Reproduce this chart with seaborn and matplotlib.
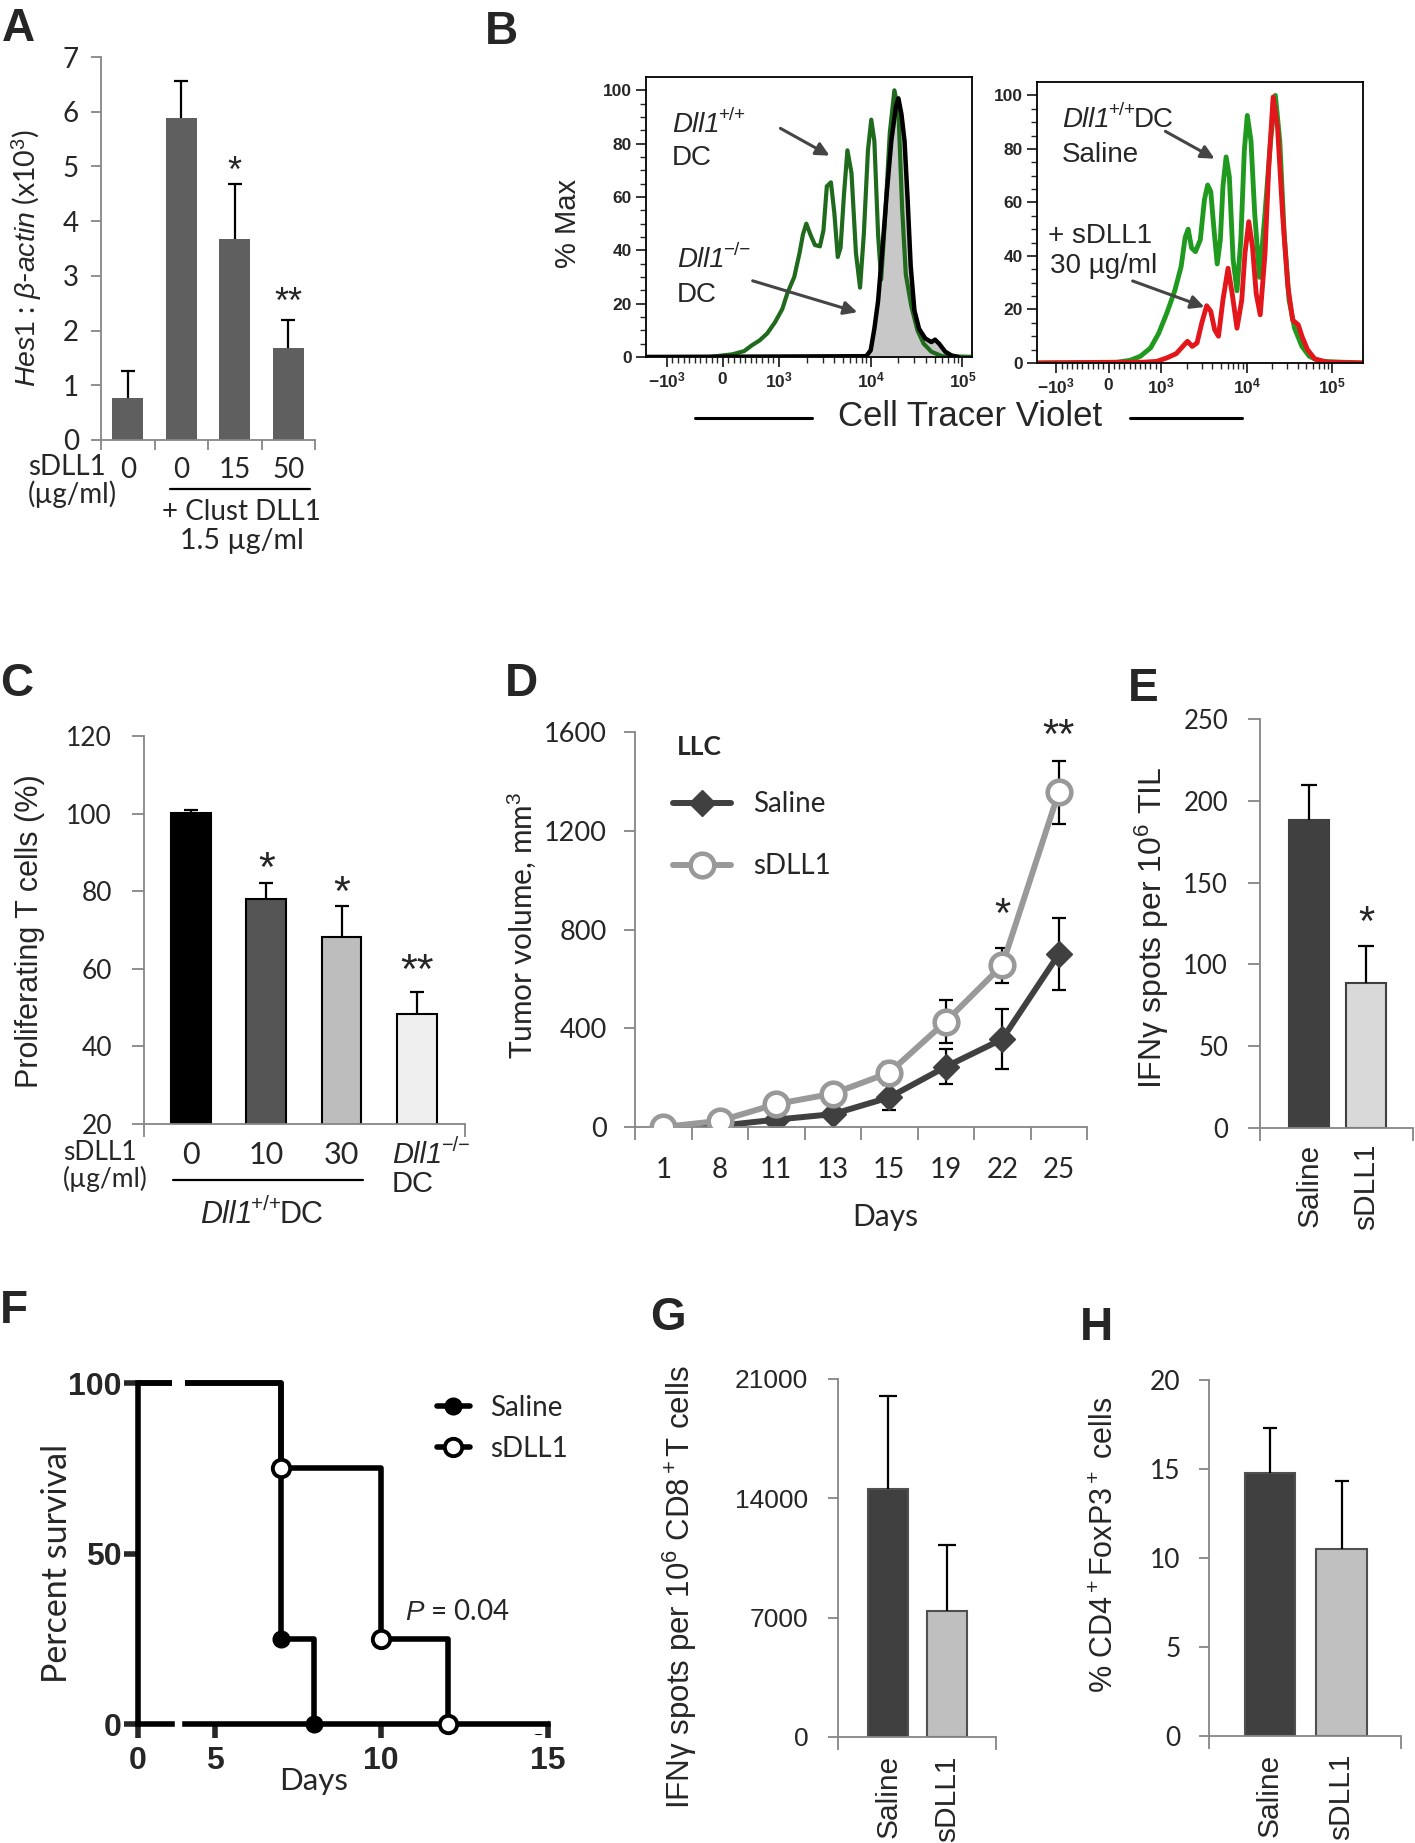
import numpy as np
import matplotlib
matplotlib.use("Agg")
import matplotlib.pyplot as plt
from matplotlib.patches import FancyArrowPatch
from matplotlib.lines import Line2D
import seaborn as sns

# ---------------------------------------------------------------------------
# Data
# ---------------------------------------------------------------------------
# A: Hes1 : beta-actin (x10^3)
a_labels = ["0", "0", "15", "50"]
a_vals = [0.76, 5.88, 3.68, 1.69]
a_err = [0.51, 0.69, 1.00, 0.51]
a_stars = ["", "", "*", "**"]
a_star_y = [0, 0, 5.1, 2.7]

# B: Cell Tracer Violet histograms (% Max), left panel
b_wt_x = [-1700, -240, 170, 380, 520, 655, 790, 930, 1090, 1240, 1470, 1680, 1830, 1990,
          2200, 2470, 2800, 3060, 3330, 3690, 4020, 4380, 4700, 5120, 5580, 6180, 6910,
          7660, 8420, 9340, 10150, 10970, 12040, 13000, 14380, 16150, 18130, 20050,
          21990, 24130, 27730, 32350, 37760, 45800, 60000, 150000]
b_wt_y = [0, 0, 1, 2.2, 4.4, 6.2, 8.8, 13, 18, 24, 30, 39, 46, 50, 46, 42, 41.5, 47.5, 64,
          65.5, 54, 37.5, 41, 61, 77.5, 69, 39, 26, 46, 77.5, 89, 81, 46, 29, 52.5, 84, 100,
          92.5, 56, 31, 19, 10, 5, 2, 0.3, 0]
b_ko_x = [-1700, 8940, 10000, 10970, 12040, 13310, 14940, 16780, 18850, 20050, 21650, 23390,
          25270, 27310, 29960, 33640, 39260, 45800, 50270, 55600, 64860, 75700, 90000]
b_ko_y = [0, 0.3, 2.5, 10.6, 21, 39, 61, 81, 94, 97, 91, 81, 59, 34, 17.5, 10.6, 7, 5.6,
          6.5, 5, 2, 0.6, 0]
# B: right panel
b_sal_x = [-1700, 160, 410, 605, 800, 955, 1170, 1450, 1720, 1920, 2080, 2280, 2530, 2880,
           3220, 3510, 3820, 4160, 4540, 4940, 5300, 5770, 6290, 6970, 7730, 8570, 9420,
           10200, 11260, 12440, 14150, 16430, 19070, 21690, 24430, 27530, 31310, 36340,
           44330, 54060, 72780, 230000]
b_sal_y = [0, 0.3, 1, 2.5, 5.6, 11, 18.6, 27, 36, 47, 50, 43, 41.6, 46, 61, 66.5, 64, 50,
           37, 46, 66, 77, 69.6, 38.5, 27, 46, 79.5, 92.5, 83, 56, 32, 56, 83, 100, 83, 48,
           23.6, 13, 6.2, 2.5, 0.6, 0]
b_sd_x = [-1700, 670, 920, 1170, 1510, 1870, 2040, 2320, 2640, 3000, 3420, 3820, 4240, 4700,
          5300, 6080, 6790, 7730, 8790, 9580, 10610, 11720, 12950, 14440, 16430, 18140,
          20430, 23020, 26450, 30390, 34580, 40120, 44330, 51430, 62720, 88800, 230000]
b_sd_y = [0, 0.3, 0.6, 1.9, 3.5, 6.8, 8.1, 6.2, 7.5, 15, 21.4, 19.3, 12.4, 10, 23.6, 35.4,
          26, 13, 23.6, 41, 52.8, 43.5, 26, 18, 41, 73, 99.4, 88, 54.7, 28.6, 16, 14.3, 10,
          5, 1.5, 0.3, 0]
b_xticks = [-1000, 0, 1000, 10000, 100000]
b_xticklabels = [r"$\mathbf{-10^3}$", r"$\mathbf{0}$", r"$\mathbf{10^3}$",
                 r"$\mathbf{10^4}$", r"$\mathbf{10^5}$"]

# C: proliferating T cells (%)
c_labels = ["0", "10", "30", ""]
c_vals = [100.1, 78.1, 68.2, 48.4]
c_err = [0.9, 4.1, 8.1, 5.7]
c_stars = ["", "*", "*", "**"]
c_star_y = [0, 89, 83, 62.7]

# D: tumour volume (mm3)
d_days = ["1", "8", "11", "13", "15", "19", "22", "25"]
d_saline = [0, 5, 30, 52, 120, 244, 356, 700]
d_saline_err = [0, 5, 10, 15, 52, 71, 123, 145]
d_sdll1 = [0, 25, 93, 135, 220, 427, 655, 1356]
d_sdll1_err = [0, 5, 8, 10, 45, 88, 70, 127]
d_stars = ["", "", "", "", "", "", "*", "**"]
d_star_y = [0, 0, 0, 0, 0, 0, 907, 1635]

# E: IFNg spots per 10^6 TIL
groups = ["Saline", "sDLL1"]
e_vals = [188, 88.6]
e_err = [21.5, 22.4]
e_stars = ["", "*"]
e_star_y = [0, 133]

# F: survival
f_saline_days = [0, 7, 8]
f_saline_surv = [100, 25, 0]
f_sdll1_days = [0, 7, 10, 12]
f_sdll1_surv = [100, 75, 25, 0]

# G: IFNg spots per 10^6 CD8+ T cells
g_vals = [14530, 7390]
g_err = [5460, 3890]

# H: % CD4+FoxP3+ cells
h_vals = [14.8, 10.5]
h_err = [2.5, 3.8]

# ---------------------------------------------------------------------------
# Style
# ---------------------------------------------------------------------------
W, H = 1415, 1843
sns.set_style("white")
CAL = ["Lato", "DejaVu Sans"]
ARI = ["Liberation Sans", "DejaVu Sans"]
plt.rcParams["font.family"] = ARI
plt.rcParams["mathtext.fontset"] = "custom"
plt.rcParams["mathtext.rm"] = "Liberation Sans"
plt.rcParams["mathtext.it"] = "Liberation Sans:italic"
plt.rcParams["mathtext.bf"] = "Liberation Sans:bold"
GRAY = "#868686"

fig = plt.figure(figsize=(W / 100, H / 100), dpi=100)
renderer = fig.canvas.get_renderer()


def box(x0, y0, x1, y1):
    return [x0 / W, 1 - y1 / H, (x1 - x0) / W, (y1 - y0) / H]


def ftext(x, y, s, **kw):
    return fig.text(x / W, 1 - y / H, s, **kw)


def gene_label(x, y, sup, tail="", size=20, family=ARI):
    # italic "Dll1" with a genotype superscript, baseline at pixel row y
    t = ftext(x, y, "Dll1", style="italic", ha="left", va="baseline", fontsize=size,
              family=family)
    x1 = t.get_window_extent(renderer).x1
    s = ftext(x1 - 1.5, y - 0.42 * size * 1.389, sup, ha="left", va="baseline",
              fontsize=0.68 * size, family=family)
    if tail:
        x2 = s.get_window_extent(renderer).x1
        ftext(x2 - 1, y, tail, ha="left", va="baseline", fontsize=size, family=family)


def fline(x0, x1, y, lw=1.6):
    fig.add_artist(Line2D([x0 / W, x1 / W], [1 - y / H, 1 - y / H], color="black", lw=lw))


def farrow(x0, y0, x1, y1):
    fig.add_artist(FancyArrowPatch((x0 / W, 1 - y0 / H), (x1 / W, 1 - y1 / H),
                                   transform=fig.transFigure, arrowstyle="-|>",
                                   mutation_scale=20, color="#454545", lw=2.2))


def excel_axes(ax, ylim, yticks, font, size, pad, ticklen):
    sns.despine(ax=ax)
    for s in ("left", "bottom"):
        ax.spines[s].set_color(GRAY)
        ax.spines[s].set_linewidth(1.3)
    ax.set_ylim(*ylim)
    ax.set_yticks(list(yticks))
    ax.tick_params(axis="y", direction="out", length=ticklen, width=1.3, color=GRAY,
                   pad=pad, labelsize=size, left=True)
    for t in ax.get_yticklabels():
        t.set_family(font)
    ax.set_xlabel("")
    ax.set_ylabel("")


def excel_bars(ax, vals, err, colors, width, edge="none", lw=0, capsize=5):
    keys = [str(i) for i in range(len(vals))]
    sns.barplot(x=keys, y=vals, hue=keys, palette=dict(zip(keys, colors)), legend=False,
                saturation=1, width=width, edgecolor=edge, linewidth=lw, errorbar=None, ax=ax)
    eb = ax.errorbar(range(len(vals)), vals, yerr=[np.zeros(len(vals)), err], fmt="none",
                     ecolor="black", elinewidth=1.6, capsize=capsize, capthick=1.6, zorder=3)
    for cl in eb[1]:
        if np.allclose(cl.get_ydata(), vals):
            cl.set_visible(False)


def cat_xaxis(ax, xlim, labels, font, size, pad, rotation=0, bounds=None, ticklen=7):
    ax.set_xlim(*xlim)
    ax.set_xticks(range(len(labels)))
    ax.set_xticklabels(labels, fontsize=size, rotation=rotation)
    for t in ax.get_xticklabels():
        t.set_family(font)
    ax.set_xticks(bounds if bounds is not None else list(xlim), minor=True)
    ax.tick_params(axis="x", which="major", length=0, pad=pad)
    ax.tick_params(axis="x", which="minor", direction="out", length=ticklen, width=1.3,
                   color=GRAY, bottom=True)


def stars(ax, ys, marks, size):
    for i, (y, m) in enumerate(zip(ys, marks)):
        if m:
            ax.annotate(m, (i, y), xytext=(0, -0.58 * size), textcoords="offset points",
                        ha="center", va="baseline", fontsize=size, family=ARI,
                        annotation_clip=False)


# ---------------------------------------------------------------------------
# A
# ---------------------------------------------------------------------------
axA = fig.add_axes(box(101, 57, 315, 440))
excel_bars(axA, a_vals, a_err, ["#5f5f5f"] * 4, 0.58, capsize=5)
excel_axes(axA, (0, 7), range(8), CAL, 20, 9, 7)
cat_xaxis(axA, (-0.5, 3.5), a_labels, CAL, 20, 12, bounds=np.arange(-0.5, 4, 1))
stars(axA, a_star_y, a_stars, 26)
ftext(27, 258, r"$\mathit{Hes1}$ : $\mathit{\beta}$-$\mathit{actin}$ (x10$^3$)",
      rotation=90, ha="center", va="center", fontsize=20.5, family=CAL)
ftext(28, 467, "sDLL1", ha="left", va="center", fontsize=20, family=CAL)
ftext(28, 494, "(µg/ml)", ha="left", va="center", fontsize=20, family=CAL)
fline(170, 310, 489)
ftext(241, 512, "+ Clust DLL1", ha="center", va="center", fontsize=20, family=CAL)
ftext(242, 541, "1.5 µg/ml", ha="center", va="center", fontsize=20.5, family=CAL)

# ---------------------------------------------------------------------------
# B
# ---------------------------------------------------------------------------
b_minor = ([-v for v in range(100, 1000, 100)] + list(range(100, 1000, 100))
           + [m * 10 ** k for k in (3, 4) for m in range(2, 10)])


def flow_axes(ax, xlim):
    ax.set_xscale("symlog", linthresh=1000, linscale=0.55)
    ax.set_xlim(*xlim)
    ax.set_ylim(0, 105)
    for s in ax.spines.values():
        s.set_linewidth(1.3)
        s.set_color("black")
    ax.set_xticks(b_xticks)
    ax.set_xticklabels(b_xticklabels)
    ax.set_xticks(b_minor, minor=True)
    ax.set_yticks(range(0, 101, 20))
    ax.set_yticks(range(0, 101, 5), minor=True)
    ax.tick_params(which="major", direction="out", length=7, width=1.3, pad=3,
                   left=True, bottom=True)
    ax.tick_params(axis="x", which="major", labelsize=12.5)
    ax.tick_params(axis="y", which="major", labelsize=12.5)
    ax.tick_params(which="minor", direction="out", length=4, width=1, left=True, bottom=True)
    for t in ax.get_yticklabels():
        t.set_fontweight("bold")


axB1 = fig.add_axes(box(646, 77, 972, 357))
axB1.fill_between(b_ko_x, b_ko_y, color="#c8c8c8", lw=0)
axB1.plot(b_wt_x, b_wt_y, color="#1f6a1c", lw=3, solid_joinstyle="round")
axB1.plot(b_ko_x, b_ko_y, color="black", lw=3.2, solid_joinstyle="round")
flow_axes(axB1, (-1680, 127000))

axB2 = fig.add_axes(box(1037, 82, 1363, 363))
axB2.plot(b_sal_x, b_sal_y, color="#1f9a1f", lw=3.5, solid_joinstyle="round")
axB2.plot(b_sd_x, b_sd_y, color="#e3161b", lw=3.5, solid_joinstyle="round")
flow_axes(axB2, (-1680, 229000))

ftext(568, 223, "% Max", rotation=90, ha="center", va="center", fontsize=21, family=ARI)
ftext(970, 417, "Cell Tracer Violet", ha="center", va="center", fontsize=25, family=ARI)
fline(695, 812, 418, lw=2.2)
fline(1130, 1242, 418, lw=2.2)

gene_label(672, 132, "+/+")
gene_label(677, 267, "\u2212/\u2212")
gene_label(1062, 127, "+/+", tail="DC")
for x, y, s in [(672, 165, "DC"), (677, 302, "DC"), (1062, 162, "Saline"),
                (1048, 243, "+ sDLL1"), (1050, 273, "30 µg/ml")]:
    ftext(x, y, s, ha="left", va="baseline", fontsize=20, family=ARI)
farrow(778, 127, 832, 157)
farrow(750, 280, 860, 313)
farrow(1163, 130, 1217, 160)
farrow(1130, 280, 1207, 308)

# ---------------------------------------------------------------------------
# C
# ---------------------------------------------------------------------------
axC = fig.add_axes(box(144, 736, 465, 1124))
excel_bars(axC, c_vals, c_err, ["#000000", "#555555", "#bdbdbd", "#efefef"], 0.53,
           edge="black", lw=1.5, capsize=5)
excel_axes(axC, (20, 120), range(20, 121, 20), CAL, 19, 14, 9)
cat_xaxis(axC, (-0.624, 3.64), c_labels, CAL, 22, 12.5, ticklen=9)
stars(axC, c_star_y, c_stars, 31)
ftext(30, 931, "Proliferating T cells (%)", rotation=90, ha="center", va="center",
      fontsize=22, family=ARI)
ftext(63, 1153, "sDLL1", ha="left", va="center", fontsize=19, family=CAL)
ftext(63, 1179, "(µg/ml)", ha="left", va="center", fontsize=19, family=CAL)
fline(173, 363, 1180)
gene_label(392, 1163, "\u2212/\u2212", size=21)
ftext(392, 1184, "DC", ha="left", va="center", fontsize=21, family=ARI)
gene_label(200, 1223, "+/+", tail="DC", size=22)

# ---------------------------------------------------------------------------
# D
# ---------------------------------------------------------------------------
axD = fig.add_axes(box(635, 732, 1087, 1127))
pos = np.arange(len(d_days))
axD.errorbar(pos, d_saline, yerr=d_saline_err, fmt="none", ecolor="black", elinewidth=1.6,
             capsize=5, capthick=1.6, zorder=1)
axD.errorbar(pos, d_sdll1, yerr=d_sdll1_err, fmt="none", ecolor="black", elinewidth=1.6,
             capsize=5, capthick=1.6, zorder=1)
sns.lineplot(x=pos, y=d_saline, ax=axD, color="#404040", lw=4.3, marker="D", markersize=13,
             markeredgecolor="#404040", markeredgewidth=1, label="Saline", zorder=2)
sns.lineplot(x=pos, y=d_sdll1, ax=axD, color="#999999", lw=4.3, marker="o", markersize=17,
             markerfacecolor="white", markeredgecolor="#999999", markeredgewidth=3.3,
             label="sDLL1", zorder=3)
excel_axes(axD, (0, 1600), range(0, 1601, 400), CAL, 19.5, 12.5, 8)
cat_xaxis(axD, (-0.5, 7.5), d_days, CAL, 20, 21.5, bounds=np.arange(-0.5, 8, 1), ticklen=9)
stars(axD, d_star_y, d_stars, 30)
axD.legend(loc="upper left", bbox_to_anchor=(0.084, 0.85), frameon=False,
           prop={"family": CAL, "size": 20}, handlelength=2.1, handletextpad=0.78,
           labelspacing=1.3, borderaxespad=0, borderpad=0)
ftext(677, 747, "LLC", ha="left", va="center", fontsize=19, fontweight="bold", family=CAL)
ftext(522, 925, "Tumor volume, mm$^3$", rotation=90, ha="center", va="center",
      fontsize=21.5, family=CAL)
ftext(885, 1217, "Days", ha="center", va="center", fontsize=21.5, family=CAL)

# ---------------------------------------------------------------------------
# E
# ---------------------------------------------------------------------------
axE = fig.add_axes(box(1260, 719, 1413, 1128))
excel_bars(axE, e_vals, e_err, ["#404040", "#d9d9d9"], 0.70, edge="#404040", lw=1.5,
           capsize=6)
excel_axes(axE, (0, 250), range(0, 251, 50), CAL, 18.5, 14, 9)
cat_xaxis(axE, (-0.86, 1.82), groups, ARI, 21.5, 11, rotation=90, ticklen=9)
stars(axE, e_star_y, e_stars, 30)
ftext(1152, 928, "IFNγ spots per 10$^6$ TIL", rotation=90, ha="center", va="center",
      fontsize=23, family=ARI)

# ---------------------------------------------------------------------------
# F (broken x axis)
# ---------------------------------------------------------------------------
axF1 = fig.add_axes(box(137.6, 1372.8, 172, 1734.4))
axF2 = fig.add_axes(box(185, 1372.8, 547.5, 1734.4))
for ax, xlim in ((axF1, (0, 1.03)), (axF2, (4.11, 15))):
    ax.step(f_saline_days, f_saline_surv, where="post", color="black", lw=4)
    ax.step(f_sdll1_days, f_sdll1_surv, where="post", color="black", lw=4)
    ax.plot(f_saline_days[1:], f_saline_surv[1:], "o", color="black", ms=12, clip_on=False,
            zorder=4)
    ax.plot(f_sdll1_days[1:], f_sdll1_surv[1:], "o", mfc="white", mec="black", mew=2.8,
            ms=12.5, clip_on=False, zorder=4)
    ax.set_xlim(*xlim)
    ax.set_ylim(-3, 103)
    sns.despine(ax=ax)
    ax.spines["bottom"].set_position(("data", 0))
    ax.spines["bottom"].set_linewidth(4)
    ax.spines["bottom"].set_color("black")
    ax.tick_params(axis="x", direction="out", length=10, width=4, pad=6, labelsize=23,
                   bottom=True)
axF1.spines["left"].set_bounds(0, 100)
axF1.spines["left"].set_linewidth(4)
axF1.spines["left"].set_color("black")
axF1.set_yticks([0, 50, 100])
axF1.set_xticks([0])
axF1.tick_params(axis="y", direction="out", length=10, width=4, pad=1.5, labelsize=23,
                 left=True)
for t in axF1.get_xticklabels() + axF1.get_yticklabels():
    t.set_fontweight("bold")
axF2.spines["left"].set_visible(False)
axF2.set_yticks([])
axF2.set_xticks([5, 10, 15])
for t in axF2.get_xticklabels():
    t.set_fontweight("bold")
f_handles = [Line2D([], [], color="black", lw=4, marker="o", ms=12),
             Line2D([], [], color="black", lw=4, marker="o", ms=12.5, mfc="white", mew=2.8)]
axF2.legend(f_handles, groups, loc="upper left", bbox_to_anchor=(0.694, 0.939),
            frameon=False, prop={"family": CAL, "size": 20}, handlelength=1.2,
            handletextpad=0.72, labelspacing=0.55, borderaxespad=0, borderpad=0)
axF2.text(10.72, 32.9, r"$\mathit{P}$ = 0.04", ha="left", va="center", fontsize=20,
          family=CAL)
ftext(57, 1563, "Percent survival", rotation=90, ha="center", va="center", fontsize=24.5,
      family=CAL)
ftext(314, 1781, "Days", ha="center", va="center", fontsize=22.5, family=CAL)

# ---------------------------------------------------------------------------
# G
# ---------------------------------------------------------------------------
axG = fig.add_axes(box(838, 1379, 996, 1737))
excel_bars(axG, g_vals, g_err, ["#404040", "#bfbfbf"], 0.69, edge="#505050", lw=1.5,
           capsize=6.5)
excel_axes(axG, (0, 21000), [0, 7000, 14000, 21000], ARI, 19, 14.5, 7)
cat_xaxis(axG, (-0.85, 1.83), groups, ARI, 21.5, 13, rotation=90, ticklen=9)
ftext(680, 1587, "IFNγ spots per 10$^6$ CD8$^+$T cells", rotation=90, ha="center",
      va="center", fontsize=22.5, family=ARI)

# ---------------------------------------------------------------------------
# H
# ---------------------------------------------------------------------------
axH = fig.add_axes(box(1209, 1380, 1401, 1736))
excel_bars(axH, h_vals, h_err, ["#404040", "#c0c0c0"], 0.70, edge="#505050", lw=1.5,
           capsize=5)
excel_axes(axH, (0, 20), range(0, 21, 5), CAL, 19, 13.5, 7)
cat_xaxis(axH, (-0.85, 1.83), groups, ARI, 21.5, 12.5, rotation=90, ticklen=9)
ftext(1105, 1545, "% CD4$^+$FoxP3$^+$ cells", rotation=90, ha="center", va="center",
      fontsize=22, family=ARI)

# ---------------------------------------------------------------------------
# Panel letters
# ---------------------------------------------------------------------------
for x, y, s in [(2, 7, "A"), (485, 10, "B"), (0, 662, "C"), (505, 662, "D"),
                (1128, 667, "E"), (0, 1289, "F"), (650, 1296, "G"), (1080, 1306, "H")]:
    ftext(x, y, s, ha="left", va="top", fontsize=33, fontweight="bold", family=ARI)

fig.savefig("out.png", dpi=100, facecolor="white")
